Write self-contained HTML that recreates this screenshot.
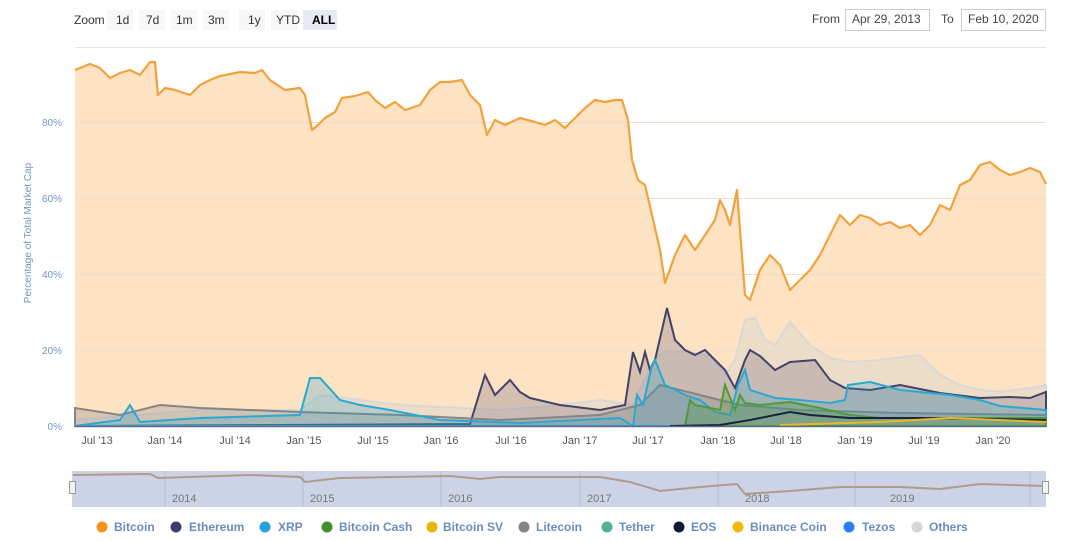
<!DOCTYPE html>
<html><head><meta charset="utf-8"><style>
body{margin:0;background:#fff;font-family:"Liberation Sans",sans-serif;}
svg{display:block}
</style></head><body>
<svg width="1080" height="541" xmlns="http://www.w3.org/2000/svg" font-family="Liberation Sans, sans-serif">
<rect width="1080" height="541" fill="#fff"/>
<!-- toolbar -->
<text x="74" y="24" font-size="12" fill="#333">Zoom</text>
<g font-size="12" fill="#333">
<rect x="107" y="10" width="26" height="20" fill="#f7f7f7"/><text x="116" y="24">1d</text>
<rect x="139" y="10" width="26" height="20" fill="#f7f7f7"/><text x="146" y="24">7d</text>
<rect x="171" y="10" width="26" height="20" fill="#f7f7f7"/><text x="176" y="24">1m</text>
<rect x="203" y="10" width="26" height="20" fill="#f7f7f7"/><text x="208" y="24">3m</text>
<rect x="239" y="10" width="26" height="20" fill="#f7f7f7"/><text x="248" y="24">1y</text>
<rect x="271" y="10" width="26" height="20" fill="#f7f7f7"/><text x="276" y="24">YTD</text>
<rect x="303" y="10" width="34" height="20" fill="#e6ebf5"/><text x="312" y="24" font-weight="bold" fill="#000">ALL</text>
</g>
<text x="812" y="23" font-size="12" fill="#444">From</text>
<rect x="845.5" y="9.5" width="84" height="21" fill="#fff" stroke="#ccc"/>
<text x="852" y="23" font-size="12" fill="#444">Apr 29, 2013</text>
<text x="941" y="23" font-size="12" fill="#444">To</text>
<rect x="961.5" y="9.5" width="84" height="21" fill="#fff" stroke="#ccc"/>
<text x="968" y="23" font-size="12" fill="#444">Feb 10, 2020</text>
<line x1="75" y1="47.5" x2="1046" y2="47.5" stroke="#e6e6e6"/>
<!-- bitcoin area -->
<polygon fill="#fde2c4" points="75,426 75,70 90,64 100,68 110,78 120,73 130,70 140,75 150,62 155,62 158,95 165,88 175,90 190,95 200,85 210,80 220,76 240,72 255,73 262,70 270,80 285,90 300,88 305,95 312,130 318,125 325,118 335,112 342,98 355,96 368,92 375,100 385,108 395,102 405,110 420,105 430,90 440,82 450,82 462,80 470,95 480,105 487,135 495,120 505,125 520,118 535,122 545,125 555,120 565,128 575,118 585,108 595,100 605,102 615,100 622,100 628,120 632,160 638,180 645,185 652,215 660,250 665,283 675,255 685,235 695,250 705,235 715,220 720,200 725,210 730,225 737,190 740,230 745,295 750,300 760,270 770,255 780,265 790,290 800,280 810,270 820,255 830,235 840,215 850,225 860,215 870,218 880,225 890,222 900,228 910,225 920,235 930,225 940,205 950,210 960,185 970,180 980,165 990,162 1000,170 1010,175 1020,172 1030,168 1040,172 1046,184 1046,426"/>
<g stroke="#f2dcc8" stroke-width="1">
<line x1="75" y1="122.5" x2="1046" y2="122.5"/><line x1="75" y1="198.5" x2="1046" y2="198.5"/><line x1="75" y1="274.5" x2="1046" y2="274.5"/><line x1="75" y1="350.5" x2="1046" y2="350.5"/>
</g>
<!-- others -->
<polygon fill="rgba(220,215,205,0.5)" stroke="#d8d8d8" stroke-width="2" points="75,426 75,420 200,410 300,410 320,395 400,405 500,410 560,405 600,400 633,405 655,358 665,352 690,352 710,356 725,375 735,360 745,320 755,318 765,340 775,345 790,322 810,345 830,358 850,362 880,360 920,355 940,375 960,385 980,390 1000,392 1030,388 1046,385 1046,426"/>
<!-- ethereum -->
<polygon fill="rgba(120,110,130,0.3)" stroke="#434368" stroke-width="2" points="75,426 470,424 485,375 495,395 510,380 520,392 530,398 560,405 600,410 625,405 633,352 640,372 645,352 650,370 655,360 667,308 675,340 685,350 695,355 705,350 715,360 725,370 735,388 745,360 750,350 760,356 775,370 790,362 815,360 830,380 845,388 870,390 900,385 940,393 980,398 1010,397 1030,398 1046,392 1046,426"/>
<!-- litecoin -->
<polygon fill="rgba(120,120,120,0.25)" stroke="#858585" stroke-width="2" points="75,426 75,408 120,415 160,405 200,408 300,412 400,415 500,420 600,415 640,405 660,385 700,395 740,405 800,410 900,413 1046,415 1046,426"/>
<!-- xrp -->
<polygon fill="rgba(40,160,200,0.25)" stroke="#2ba7d3" stroke-width="2" points="75,426 120,420 130,405 140,422 200,418 300,415 310,378 320,378 340,400 360,405 390,410 440,420 520,423 620,418 633,426 637,395 643,405 652,365 655,360 665,385 685,395 700,400 715,412 730,415 738,385 745,370 750,390 775,398 800,400 830,403 845,400 848,385 870,382 900,390 950,395 980,400 1000,406 1046,410 1046,426"/>
<!-- bch -->
<polygon fill="rgba(80,150,60,0.3)" stroke="#4f9a3a" stroke-width="2" points="685,426 690,400 695,405 720,410 725,385 735,410 740,395 745,403 760,405 790,402 820,408 850,415 880,418 1046,418 1046,426"/>
<polyline fill="none" stroke="#1b2240" stroke-width="2" points="670,426 720,425 750,420 790,412 810,415 850,418 920,418 1046,420"/>
<polyline fill="none" stroke="#e8b923" stroke-width="2" points="780,425 880,422 950,418 1046,422"/>
<polyline fill="none" stroke="#f2a23c" stroke-width="2.2" points="75,70 90,64 100,68 110,78 120,73 130,70 140,75 150,62 155,62 158,95 165,88 175,90 190,95 200,85 210,80 220,76 240,72 255,73 262,70 270,80 285,90 300,88 305,95 312,130 318,125 325,118 335,112 342,98 355,96 368,92 375,100 385,108 395,102 405,110 420,105 430,90 440,82 450,82 462,80 470,95 480,105 487,135 495,120 505,125 520,118 535,122 545,125 555,120 565,128 575,118 585,108 595,100 605,102 615,100 622,100 628,120 632,160 638,180 645,185 652,215 660,250 665,283 675,255 685,235 695,250 705,235 715,220 720,200 725,210 730,225 737,190 740,230 745,295 750,300 760,270 770,255 780,265 790,290 800,280 810,270 820,255 830,235 840,215 850,225 860,215 870,218 880,225 890,222 900,228 910,225 920,235 930,225 940,205 950,210 960,185 970,180 980,165 990,162 1000,170 1010,175 1020,172 1030,168 1040,172 1046,184" stroke-linejoin="round"/>
<line x1="75" y1="426.5" x2="1046" y2="426.5" stroke="#5b6a8a" stroke-width="1.5"/>
<!-- y labels -->
<g font-size="10" fill="#6d96c8" text-anchor="end">
<text x="62" y="430">0%</text><text x="62" y="354">20%</text><text x="62" y="278">40%</text><text x="62" y="202">60%</text><text x="62" y="126">80%</text>
</g>
<text transform="translate(31,233) rotate(-90)" font-size="10" fill="#6d96c8" text-anchor="middle">Percentage of Total Market Cap</text>
<!-- x labels -->
<g font-size="11" fill="#555" text-anchor="middle">
<text x="97" y="444">Jul '13</text><text x="165" y="444">Jan '14</text><text x="235" y="444">Jul '14</text><text x="304" y="444">Jan '15</text><text x="373" y="444">Jul '15</text><text x="441" y="444">Jan '16</text><text x="511" y="444">Jul '16</text><text x="580" y="444">Jan '17</text><text x="648" y="444">Jul '17</text><text x="718" y="444">Jan '18</text><text x="786" y="444">Jul '18</text><text x="855" y="444">Jan '19</text><text x="924" y="444">Jul '19</text><text x="993" y="444">Jan '20</text>
</g>
<!-- navigator -->
<rect x="72" y="471" width="974" height="36" fill="#ccd3e6"/>
<g stroke="#b5bdd0"><line x1="165" y1="471" x2="165" y2="507"/><line x1="303" y1="471" x2="303" y2="507"/><line x1="441" y1="471" x2="441" y2="507"/><line x1="580" y1="471" x2="580" y2="507"/><line x1="718" y1="471" x2="718" y2="507"/><line x1="855" y1="471" x2="855" y2="507"/><line x1="1030" y1="471" x2="1030" y2="507"/></g>
<g font-size="11" fill="#777"><text x="172" y="502">2014</text><text x="310" y="502">2015</text><text x="448" y="502">2016</text><text x="587" y="502">2017</text><text x="745" y="502">2018</text><text x="890" y="502">2019</text></g>
<polyline fill="none" stroke="#b09a88" stroke-width="2" points="73,475 150,474 158,478 250,475 300,477 305,482 340,478 450,476 480,479 500,477 600,477 630,482 660,491 700,487 737,484 745,494 790,491 840,487 900,487 940,489 980,484 1046,486"/>
<rect x="69.5" y="481.5" width="6" height="12" fill="#f2f2f2" stroke="#999"/>
<rect x="1042.5" y="481.5" width="6" height="12" fill="#f2f2f2" stroke="#999"/>
<!-- legend -->
<g font-size="12" font-weight="bold" fill="#6a8cc0">
<circle cx="102" cy="527" r="5.5" fill="#f7931a"/><text x="114" y="531">Bitcoin</text>
<circle cx="176" cy="527" r="5.5" fill="#3c3c6a"/><text x="189" y="531">Ethereum</text>
<circle cx="265" cy="527" r="5.5" fill="#23a3de"/><text x="278" y="531">XRP</text>
<circle cx="327" cy="527" r="5.5" fill="#3f8f2f"/><text x="339" y="531">Bitcoin Cash</text>
<circle cx="432" cy="527" r="5.5" fill="#eab300"/><text x="443" y="531">Bitcoin SV</text>
<circle cx="524" cy="527" r="5.5" fill="#838383"/><text x="536" y="531">Litecoin</text>
<circle cx="607" cy="527" r="5.5" fill="#4fb38f"/><text x="619" y="531">Tether</text>
<circle cx="679" cy="527" r="5.5" fill="#111a35"/><text x="691" y="531">EOS</text>
<circle cx="738" cy="527" r="5.5" fill="#f0b90b"/><text x="750" y="531">Binance Coin</text>
<circle cx="849" cy="527" r="5.5" fill="#2c7df7"/><text x="862" y="531">Tezos</text>
<circle cx="917" cy="527" r="5.5" fill="#d6d6d6"/><text x="929" y="531">Others</text>
</g>
</svg>
</body></html>
